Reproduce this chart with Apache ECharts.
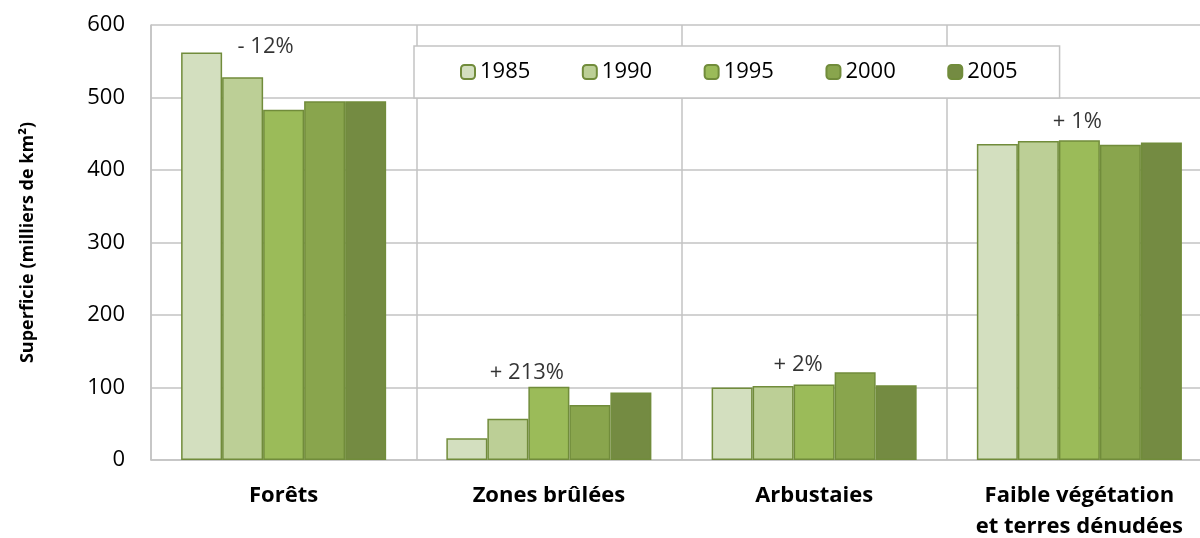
<!DOCTYPE html>
<html>
<head>
<meta charset="utf-8">
<script src="https://cdn.jsdelivr.net/npm/echarts@6/dist/echarts.min.js"></script>
<style>html,body{margin:0;padding:0;background:#fff}#c{width:1200px;height:538px}</style>
</head>
<body>
<div id="c"></div>
<script>
const categories = ['Forêts', 'Zones brûlées', 'Arbustaies', 'Faible végétation\net terres dénudées'];
const years = ['1985', '1990', '1995', '2000', '2005'];
const v1985 = [562, 30, 100, 436];
const v1990 = [528, 57, 102, 440];
const v1995 = [483, 101, 104, 441];
const v2000 = [495, 76, 121, 435];
const v2005 = [495, 93, 103, 438];
const changeText = ['- 12%', '+ 213%', '+ 2%', '+ 1%'];
const changeLabelY = [570, 121, 131, 467];
const yTicks = [0, 100, 200, 300, 400, 500, 600];

const seriesValues = [v1985, v1990, v1995, v2000, v2005];
const colors = ['#d3dfbf', '#bccf96', '#9bbb59', '#89a54d', '#748b42'];
const labelDx = [-18, -22, -16, -2];
const FONT = '"Open Sans", "Noto Sans", sans-serif';
const GRID = '#c3c3c3';

const chart = echarts.init(document.getElementById('c'), null, {renderer: 'canvas'});
const series = years.map((y, i) => ({
  name: y,
  type: 'bar',
  data: seriesValues[i],
  barGap: '0%',
  barCategoryGap: '22.7%',
  itemStyle: {color: colors[i], borderColor: '#718c3b', borderWidth: 1.5},
  emphasis: {disabled: true}
}));
series.push({
  name: 'annot',
  type: 'scatter',
  symbolSize: 0,
  data: changeLabelY.map((v, i) => ({
    value: [i, v],
    label: {offset: [labelDx[i], 0]}
  })),
  label: {
    show: true,
    position: 'inside',
    formatter: p => changeText[p.dataIndex],
    color: '#000',
    fontFamily: FONT,
    fontSize: 22
  },
  silent: true
});

chart.setOption({
  animation: false,
  backgroundColor: '#fff',
  grid: {left: 151, top: 25, width: 1061, height: 435, containLabel: false, outerBoundsMode: 'none'},
  legend: {
    data: years,
    left: 414,
    top: 46,
    itemWidth: 14,
    itemHeight: 14,
    itemGap: 51.5,
    padding: [15, 42, 15, 46],
    borderColor: '#c3c3c3',
    borderWidth: 1.5,
    backgroundColor: '#fff',
    textStyle: {fontFamily: FONT, fontSize: 22, color: '#000'},
    selectedMode: false
  },
  xAxis: {
    type: 'category',
    data: categories,
    axisLine: {show: true, lineStyle: {color: GRID, width: 1.5}},
    axisTick: {show: false},
    splitLine: {show: true, interval: 0, lineStyle: {color: GRID, width: 1.5}},
    axisLabel: {
      interval: 0,
      margin: 20,
      fontFamily: FONT,
      fontSize: 22,
      fontWeight: 'bold',
      color: '#000',
      lineHeight: 31
    }
  },
  yAxis: {
    type: 'value',
    min: yTicks[0],
    max: yTicks[yTicks.length - 1],
    interval: 100,
    name: 'Superficie (milliers de km²)',
    nameLocation: 'middle',
    nameGap: 114,
    nameRotate: 90,
    nameTextStyle: {fontFamily: FONT, fontSize: 18, fontWeight: 'bold', color: '#000'},
    axisLine: {show: true, lineStyle: {color: GRID, width: 1.5}},
    axisTick: {show: false},
    splitLine: {show: true, lineStyle: {color: GRID, width: 1.5}},
    axisLabel: {margin: 26, fontFamily: FONT, fontSize: 22, color: '#000'}
  },
  series: series
});
</script>
</body>
</html>
